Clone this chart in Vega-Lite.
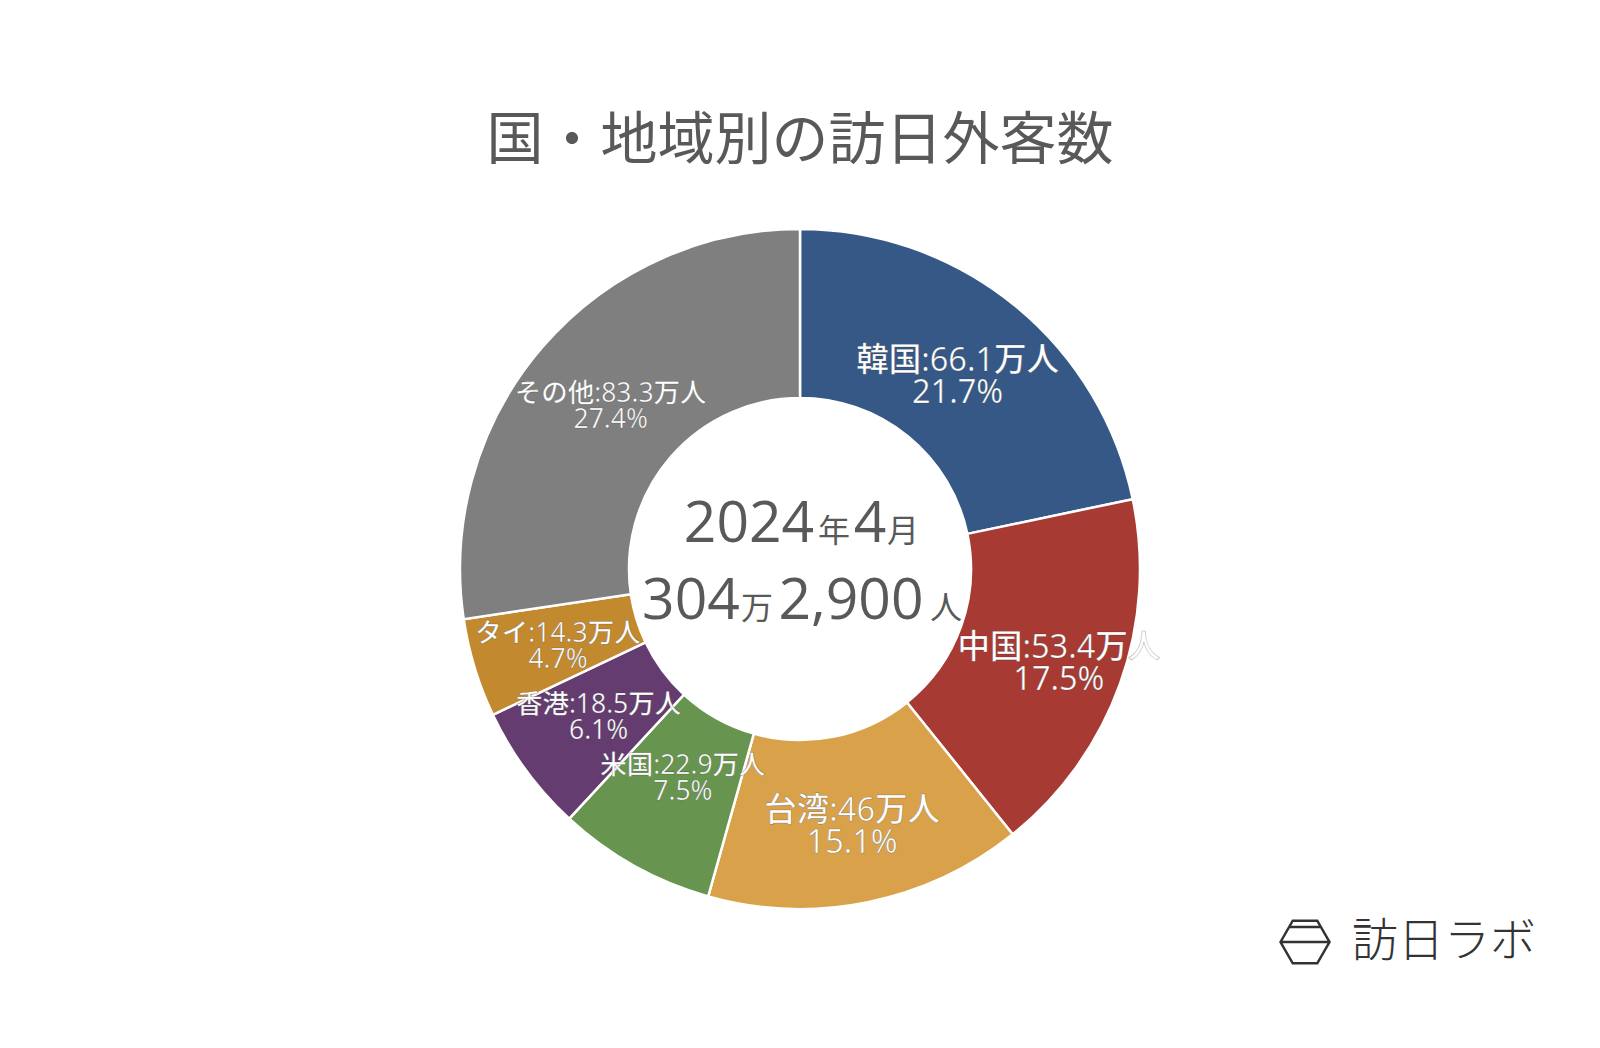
{
  "$schema": "https://vega.github.io/schema/vega-lite/v6.json",
  "width": 1600,
  "height": 958,
  "autosize": {"type": "none"},
  "padding": {"top": 90, "left": 0, "right": 0, "bottom": 0},
  "background": "#ffffff",
  "config": {"view": {"stroke": null}, "font": "Open Sans, Noto Sans CJK JP, sans-serif"},
  "title": {
    "text": "国・地域別の訪日外客数",
    "font": "Noto Sans CJK JP",
    "fontSize": 57,
    "fontWeight": "normal",
    "color": "#595959",
    "anchor": "middle",
    "offset": -81
  },
  "datasets": {
    "visitors": [
      {"order": 1, "name": "韓国", "value": 66.1, "label": "韓国:66.1万人", "pct": "21.7%"},
      {"order": 2, "name": "中国", "value": 53.4, "label": "中国:53.4万人", "pct": "17.5%"},
      {"order": 3, "name": "台湾", "value": 46, "label": "台湾:46万人", "pct": "15.1%"},
      {"order": 4, "name": "米国", "value": 22.9, "label": "米国:22.9万人", "pct": "7.5%"},
      {"order": 5, "name": "香港", "value": 18.5, "label": "香港:18.5万人", "pct": "6.1%"},
      {"order": 6, "name": "タイ", "value": 14.3, "label": "タイ:14.3万人", "pct": "4.7%"},
      {"order": 7, "name": "その他", "value": 83.3, "label": "その他:83.3万人", "pct": "27.4%"}
    ]
  },
  "layer": [
    {
      "data": {"name": "visitors"},
      "mark": {"type": "arc", "outerRadius": 340, "innerRadius": 171, "stroke": "#ffffff", "strokeWidth": 2.5},
      "encoding": {
        "theta": {"field": "value", "type": "quantitative", "stack": true},
        "order": {"field": "order", "type": "quantitative"},
        "color": {
          "field": "name",
          "type": "nominal",
          "scale": {
            "domain": ["韓国", "中国", "台湾", "米国", "香港", "タイ", "その他"],
            "range": ["#355887", "#A83A34", "#D9A24A", "#67954F", "#643C70", "#C2892F", "#7E7F7E"]
          },
          "legend": null
        }
      }
    },
    {
      "data": {"name": "visitors"},
      "transform": [{"calculate": "[datum.label, datum.pct]", "as": "lines"}],
      "mark": {
        "type": "text",
        "radius": {"expr": "datum.order == 2 ? 275 : datum.order == 3 ? 261 : datum.order == 4 ? 240 : datum.order == 6 ? 253 : 250"},
        "align": "center",
        "baseline": "middle",
        "fill": "#ffffff",
        "fontWeight": 500,
        "stroke": "#222222",
        "strokeWidth": 0.6,
        "strokeOpacity": 0.4,
        "dy": {"expr": "datum.order <= 3 ? -14 : datum.order == 6 ? -9 : -12"},
        "lineHeight": {"expr": "datum.order <= 3 ? 32 : 26"}
      },
      "encoding": {
        "theta": {"field": "value", "type": "quantitative", "stack": true},
        "order": {"field": "order", "type": "quantitative"},
        "text": {"field": "lines"},
        "size": {"condition": {"test": "datum.order <= 3", "value": 32.5}, "value": 26.5}
      }
    },
    {
      "data": {"values": [{"t": "2024"}]},
      "mark": {"type": "text", "align": "center", "baseline": "alphabetic", "dx": -51, "dy": -27, "fontSize": 57, "fill": "#595959"},
      "encoding": {"text": {"field": "t"}}
    },
    {
      "data": {"values": [{"t": "年"}]},
      "mark": {"type": "text", "align": "center", "baseline": "alphabetic", "dx": 34, "dy": -27, "fontSize": 32, "fill": "#595959", "font": "Noto Sans CJK JP"},
      "encoding": {"text": {"field": "t"}}
    },
    {
      "data": {"values": [{"t": "4"}]},
      "mark": {"type": "text", "align": "center", "baseline": "alphabetic", "dx": 70, "dy": -27, "fontSize": 57, "fill": "#595959"},
      "encoding": {"text": {"field": "t"}}
    },
    {
      "data": {"values": [{"t": "月"}]},
      "mark": {"type": "text", "align": "center", "baseline": "alphabetic", "dx": 103, "dy": -27, "fontSize": 32, "fill": "#595959", "font": "Noto Sans CJK JP"},
      "encoding": {"text": {"field": "t"}}
    },
    {
      "data": {"values": [{"t": "304"}]},
      "mark": {"type": "text", "align": "center", "baseline": "alphabetic", "dx": -109, "dy": 50, "fontSize": 57, "fill": "#595959"},
      "encoding": {"text": {"field": "t"}}
    },
    {
      "data": {"values": [{"t": "万"}]},
      "mark": {"type": "text", "align": "center", "baseline": "alphabetic", "dx": -43, "dy": 50, "fontSize": 32, "fill": "#595959", "font": "Noto Sans CJK JP"},
      "encoding": {"text": {"field": "t"}}
    },
    {
      "data": {"values": [{"t": "2,900"}]},
      "mark": {"type": "text", "align": "center", "baseline": "alphabetic", "dx": 51, "dy": 50, "fontSize": 57, "fill": "#595959"},
      "encoding": {"text": {"field": "t"}}
    },
    {
      "data": {"values": [{"t": "人"}]},
      "mark": {"type": "text", "align": "center", "baseline": "alphabetic", "dx": 146, "dy": 50, "fontSize": 32, "fill": "#595959", "font": "Noto Sans CJK JP"},
      "encoding": {"text": {"field": "t"}}
    },
    {
      "data": {"values": [{"t": "訪日ラボ"}]},
      "mark": {"type": "text", "align": "right", "baseline": "middle", "x": 1536, "y": 852, "fontSize": 46, "fontWeight": 300, "fill": "#333333", "font": "Noto Sans CJK JP"},
      "encoding": {"text": {"field": "t"}}
    },
    {
      "data": {"values": [{"t": "logo"}]},
      "mark": {
        "type": "point",
        "x": 1305,
        "y": 852,
        "size": 2401,
        "filled": false,
        "stroke": "#333333",
        "strokeWidth": 2.5,
        "opacity": 1,
        "shape": "M-1,0L-0.5,-0.87L0.5,-0.87L1,0L0.5,0.87L-0.5,0.87ZM-1,0L1,0M-0.65,-0.61L0.65,-0.61"
      },
      "encoding": {}
    }
  ]
}
